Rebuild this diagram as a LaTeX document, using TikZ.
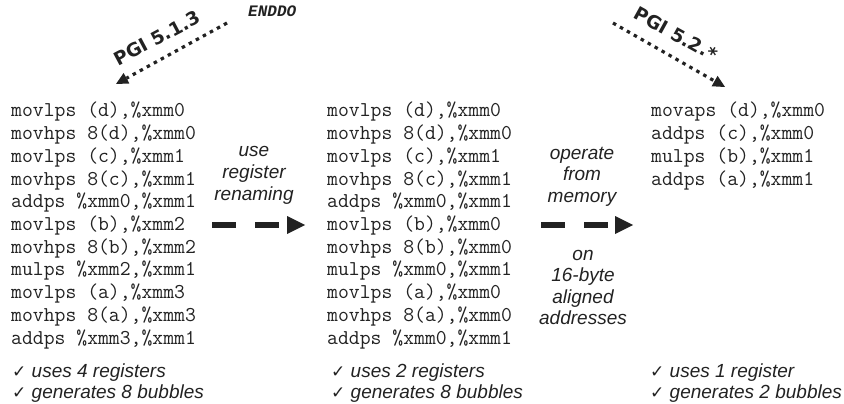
\documentclass[tikz,border=0pt]{standalone}
\usepackage{fontspec}
\setmainfont{Liberation Sans}
\newfontfamily\boldmono{Liberation Mono}
\newfontfamily\pgifont{DejaVu Sans}
\newfontfamily\symfont{DejaVu Sans}
\usetikzlibrary{arrows.meta}
\definecolor{ink}{HTML}{222222}
\newcommand{\tick}{{\upshape\symfont\fontsize{17}{18}\selectfont ✓}}
\begin{document}
\begin{tikzpicture}[x=1pt,y=-1pt,
  code/.style={anchor=base west, inner sep=0pt, text=ink, font=\ttfamily\fontsize{21.1}{22}\selectfont},
  lbl/.style={anchor=base, inner sep=0pt, text=ink, font=\fontsize{19}{21}\selectfont\itshape},
  chk/.style={anchor=base west, inner sep=0pt, text=ink, font=\fontsize{19}{22}\selectfont\itshape},
  pgi/.style={inner sep=0pt, text=ink, font=\pgifont\bfseries\fontsize{18.5}{20}\selectfont},
  dotarrow/.style={draw=ink, line width=3.2pt, dash pattern=on 3.5pt off 4.5pt, -{Triangle[length=12pt,width=12pt,line width=0pt]}},
  bigarrow/.style={draw=ink, line width=6pt, dash pattern=on 24pt off 19pt, -{Triangle[length=18pt,width=18pt,line width=0pt]}}]
\useasboundingbox (0,0) rectangle (844,404);
% left column
\foreach \t [count=\i] in {{movlps (d),\%xmm0},{movhps 8(d),\%xmm0},{movlps (c),\%xmm1},{movhps 8(c),\%xmm1},{addps \%xmm0,\%xmm1},{movlps (b),\%xmm2},{movhps 8(b),\%xmm2},{mulps \%xmm2,\%xmm1},{movlps (a),\%xmm3},{movhps 8(a),\%xmm3},{addps \%xmm3,\%xmm1}}
  \node[code] (L\i) at (11,{117+22.7*(\i-1)}) {\t};
% middle column
\foreach \t [count=\i] in {{movlps (d),\%xmm0},{movhps 8(d),\%xmm0},{movlps (c),\%xmm1},{movhps 8(c),\%xmm1},{addps \%xmm0,\%xmm1},{movlps (b),\%xmm0},{movhps 8(b),\%xmm0},{mulps \%xmm0,\%xmm1},{movlps (a),\%xmm0},{movhps 8(a),\%xmm0},{addps \%xmm0,\%xmm1}}
  \node[code] (M\i) at (327,{117+22.7*(\i-1)}) {\t};
% right column
\foreach \t [count=\i] in {{movaps (d),\%xmm0},{addps (c),\%xmm0},{mulps (b),\%xmm1},{addps (a),\%xmm1}}
  \node[code] (R\i) at (651,{117+22.7*(\i-1)}) {\t};
% check lines
\node[chk] (c1a) at (12,377) {\tick\ uses 4 registers};
\node[chk] (c1b) at (12,398) {\tick\ generates 8 bubbles};
\node[chk] (c2a) at (331,377) {\tick\ uses 2 registers};
\node[chk] (c2b) at (331,398) {\tick\ generates 8 bubbles};
\node[chk] (c3a) at (650,377) {\tick\ uses 1 register};
\node[chk] (c3b) at (650,398) {\tick\ generates 2 bubbles};
% first transformation
\node[lbl] (u1) at (254,157) {use};
\node[lbl] (u2) at (254,178.5) {register};
\node[lbl] (u3) at (254,200) {renaming};
\coordinate (a1s) at (212,225);
\coordinate (a1e) at (305,225);
\draw[bigarrow] (a1s) -- (a1e);
% second transformation
\node[lbl] (o1) at (582,159) {operate};
\node[lbl] (o2) at (582,180.5) {from};
\node[lbl] (o3) at (582,202) {memory};
\coordinate (a2s) at (541,225);
\coordinate (a2e) at (633,225);
\draw[bigarrow] (a2s) -- (a2e);
\node[lbl] (o4) at (583,260) {on};
\node[lbl] (o5) at (583,281.5) {16-byte};
\node[lbl] (o6) at (583,303) {aligned};
\node[lbl] (o7) at (583,324.5) {addresses};
% compiler arrows
\node[anchor=west, inner sep=0pt, text=ink, font=\boldmono\bfseries\itshape\fontsize{16}{18}\selectfont] (enddo) at (248,11) {ENDDO};
\coordinate (p1s) at (227,23);
\coordinate (p1e) at (116,84);
\draw[dotarrow] (p1s) -- (p1e);
\node[pgi, rotate=28] (pgi1) at (157,38) {PGI 5.1.3};
\coordinate (p2s) at (613,23);
\coordinate (p2e) at (725,87);
\draw[dotarrow] (p2s) -- (p2e);
\node[pgi, rotate=-29] (pgi2) at (676,34) {PGI 5.2.*};
\end{tikzpicture}
\end{document}
